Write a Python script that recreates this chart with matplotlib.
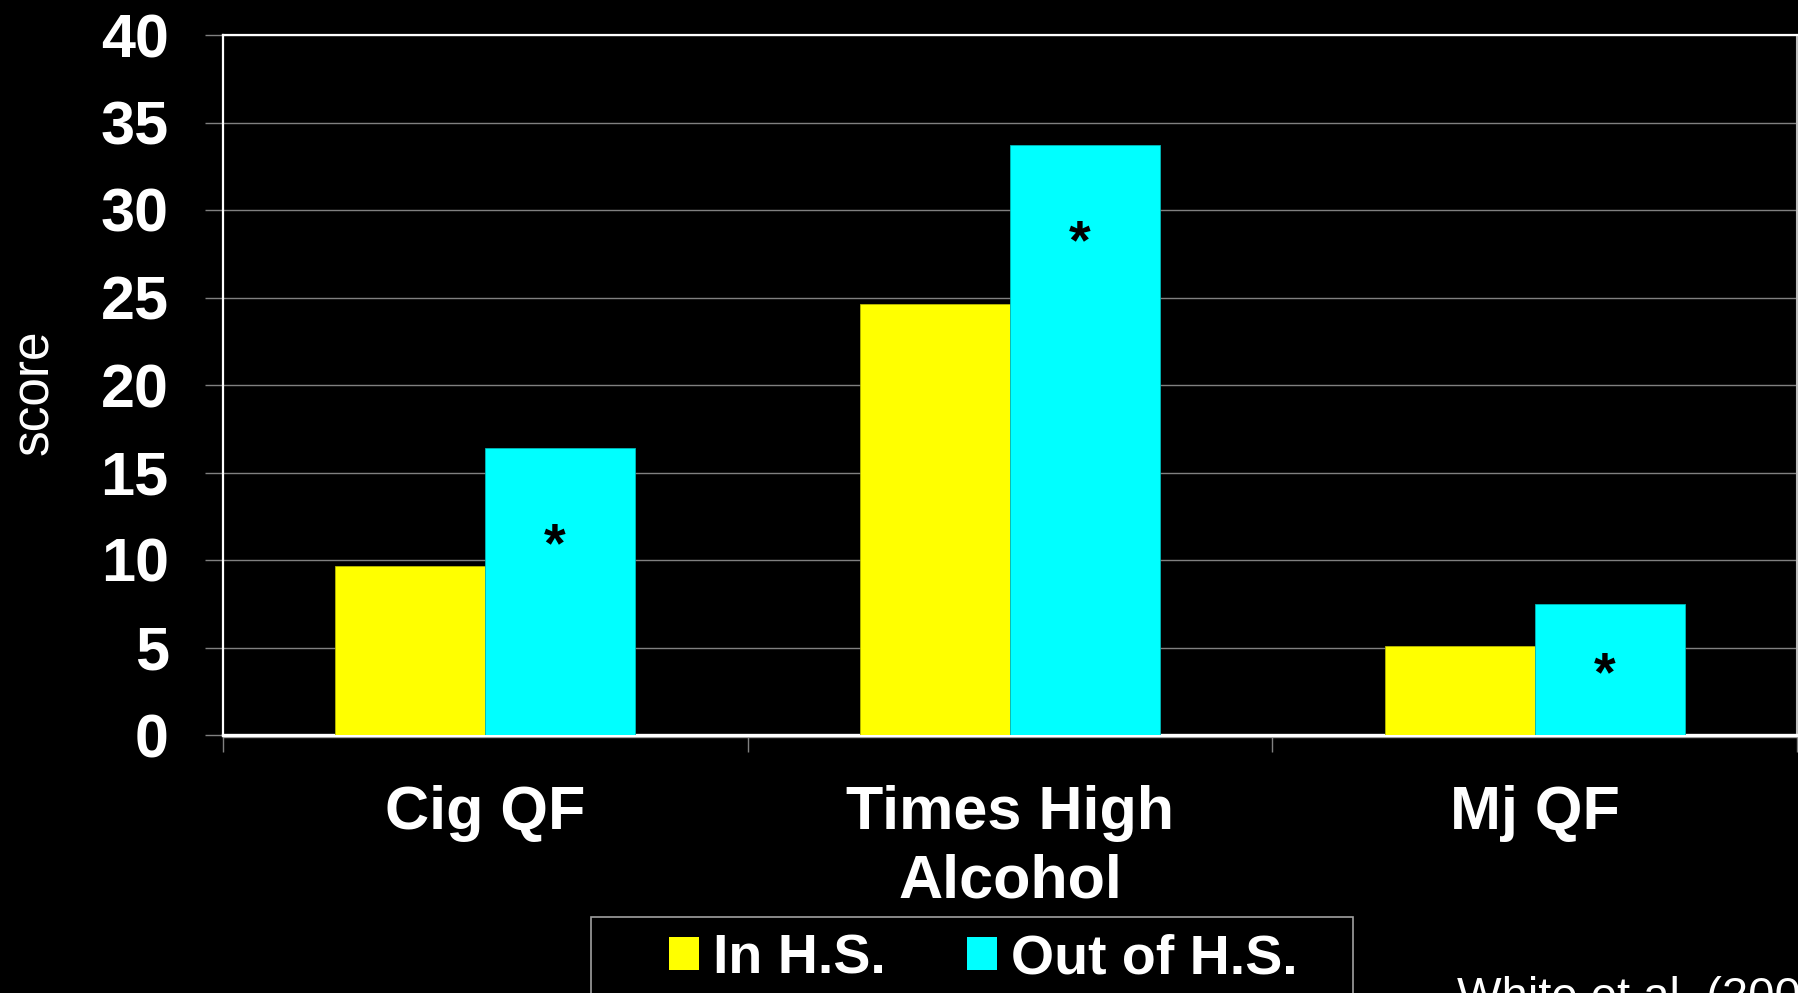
import matplotlib
matplotlib.use("Agg")
import matplotlib.pyplot as plt
from matplotlib.patches import Patch, Rectangle
import numpy as np

categories = ["Cig QF", "Times High\nAlcohol", "Mj QF"]
in_hs = [9.66, 24.63, 5.07]
out_of_hs = [16.4, 33.7, 7.47]
series_names = ["In H.S.", "Out of H.S."]
yticks = [0, 5, 10, 15, 20, 25, 30, 35, 40]
# heights where the significance stars sit on the "out of H.S." bars
star_y = [11.26, 28.6, 3.9]
source = "White et al. (2008)"

plt.rcParams["font.family"] = ["Liberation Sans", "DejaVu Sans"]

W, H = 1798, 993
fig = plt.figure(figsize=(W / 100, H / 100), dpi=100, facecolor="black")
ax = fig.add_axes([223 / W, 1 - 735 / H, (1797 - 223) / W, (735 - 35) / H])
ax.set_facecolor("black")

x = np.arange(len(categories))
w = 0.286
ax.bar(x - w / 2, in_hs, w, color="#ffff00", edgecolor="#b8b800", linewidth=0.6, zorder=3)
ax.bar(x + w / 2, out_of_hs, w, color="#00ffff", edgecolor="#00b8b8", linewidth=0.6, zorder=3)

# stars: glyph sits high in its box, so nudge it down a little
for xi, yi in zip(x, star_y):
    ax.annotate("*", (xi + w / 2 - 0.01, yi), xytext=(0, -7), textcoords="offset points",
                ha="center", va="center", fontsize=40, fontweight="bold",
                color="black", zorder=4)

ax.set_xlim(-0.5, len(categories) - 0.5)
ax.set_ylim(0, 40)

# y axis
ax.set_yticks(yticks)
ax.set_yticklabels([str(t) for t in yticks])
ax.tick_params(axis="y", colors="#808080", length=13, width=1, pad=26,
               labelcolor="white", labelsize=44)
for lab in ax.get_yticklabels():
    lab.set_fontweight("bold")
ax.yaxis.grid(True, color="#808080", linewidth=1)
ax.set_axisbelow(True)

# x axis: labels at the group centres, tick marks between groups
ax.set_xticks(x)
ax.set_xticklabels(categories, fontsize=44, fontweight="bold", color="white",
                   linespacing=1.25)
ax.tick_params(axis="x", which="major", length=0, pad=36)
ax.set_xticks(np.arange(-0.5, len(categories)), minor=True)
ax.tick_params(axis="x", which="minor", length=12, width=1, colors="#808080")

for side in ["left", "top"]:
    ax.spines[side].set_color("white")
    ax.spines[side].set_linewidth(1.6)
ax.spines["bottom"].set_color("white")
ax.spines["bottom"].set_linewidth(2.4)
ax.spines["right"].set_color("#c0c0c0")
ax.spines["right"].set_linewidth(1.5)
# thin grey axis line just under the white baseline
ax.axhline(-0.12, color="#909090", linewidth=1, clip_on=False, zorder=1)

fig.text(35 / W, 1 - 392 / H, "score", rotation=90, ha="center", va="center",
         fontsize=37, color="white")

# legend box runs off the bottom of the slide
fig.patches.append(Rectangle((591 / W, -0.05), (1353 - 591) / W, 1 - 917 / H + 0.05,
                             transform=fig.transFigure, facecolor="black",
                             edgecolor="#a0a0a0", linewidth=1.2, zorder=1))
handles = [Patch(facecolor="#ffff00", edgecolor="none"),
           Patch(facecolor="#00ffff", edgecolor="none")]
leg = fig.legend(handles, series_names, loc="upper left",
                 bbox_to_anchor=(669 / W, 1 - 933 / H), ncol=2, frameon=False,
                 borderpad=0, borderaxespad=0, handlelength=0.54, handleheight=0.52,
                 handletextpad=0.25, columnspacing=1.47,
                 prop={"weight": "bold", "size": 40})
for t in leg.get_texts():
    t.set_color("white")
leg.set_zorder(2)

fig.text(1457 / W, 1 - 976 / H, source, ha="left", va="top", fontsize=34, color="white")

fig.savefig("out.png", dpi=100, facecolor="black")
